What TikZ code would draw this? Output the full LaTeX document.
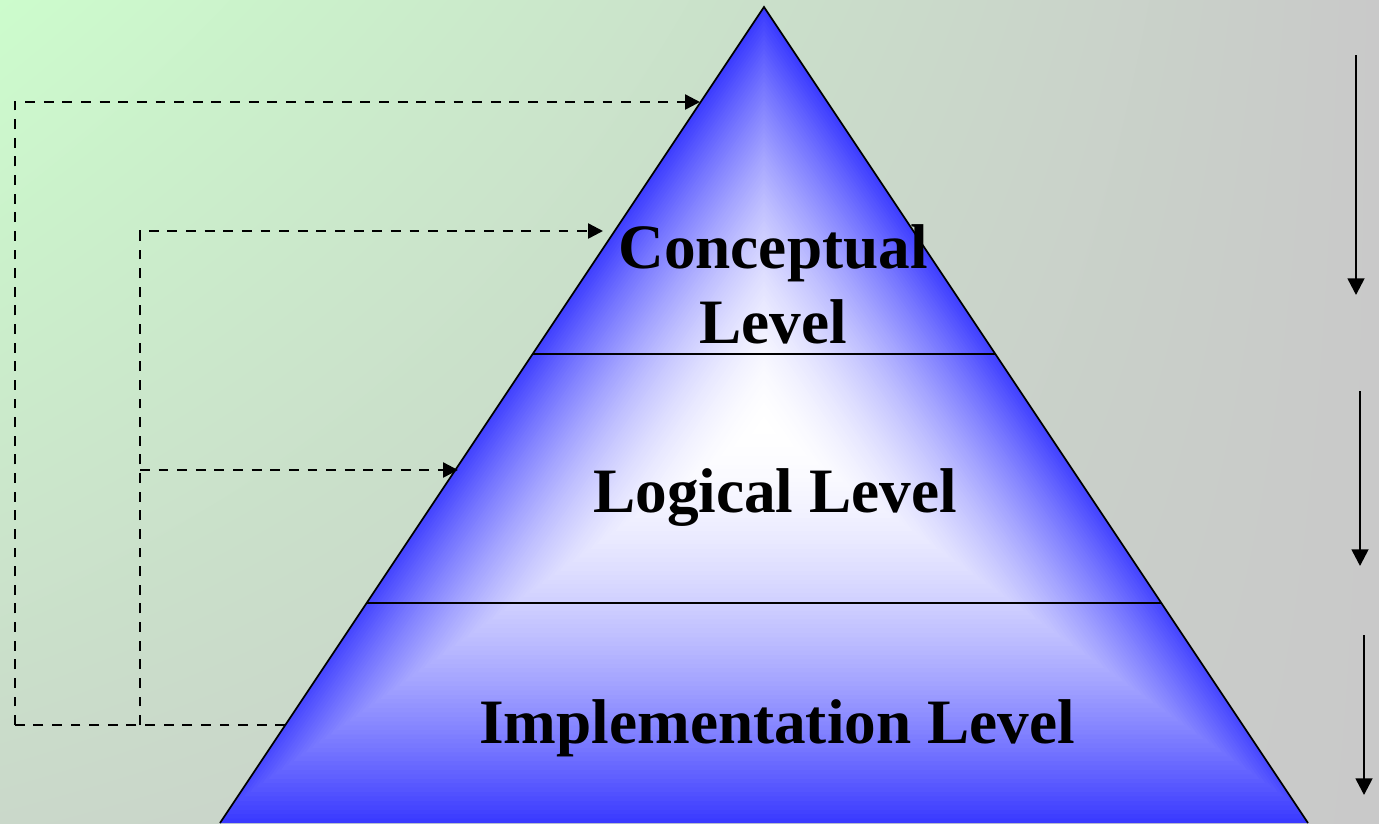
\documentclass[tikz,border=0pt]{standalone}
\usepackage{fontspec}
\setmainfont{Liberation Serif}
\usetikzlibrary{arrows.meta,calc,shadings}
\definecolor{pyrblue}{RGB}{58,58,255}
\definecolor{bgUL}{RGB}{204,252,204}
\definecolor{bgUR}{RGB}{201,201,201}
\definecolor{bgLL}{RGB}{202,216,202}
\definecolor{bgLR}{RGB}{201,201,201}
\tikzset{
  lvl/.style={font=\bfseries\fontsize{36}{42.5}\selectfont, align=center, inner sep=0pt, anchor=base},
  dashconn/.style={draw=black, line width=1.4pt, dash pattern=on 5.6pt off 5pt, -{Triangle[length=8.5pt,width=8.5pt]}},
  dashplain/.style={draw=black, line width=1.4pt, dash pattern=on 5.6pt off 5pt},
  downarrow/.style={draw=black, line width=1.5pt, -{Triangle[length=9.5pt,width=9.5pt]}},
  outline/.style={draw=black, line width=1pt}
}
\begin{document}
\begin{tikzpicture}[x=0.02cm,y=-0.02cm]
\useasboundingbox (0,0) rectangle (1379,823);
\shade[upper left=bgUL, upper right=bgUR, lower left=bgLL, lower right=bgLR] (0,0) rectangle (1379,823);
% pyramid shading
\begin{scope}
\clip (764,7) -- (220,823) -- (1308,823) -- cycle;
\foreach \i in {0,...,89}{
  \pgfmathsetmacro{\s}{1-\i/90}
  \pgfmathsetmacro{\p}{100*(\s)^1.8}
  \fill[pyrblue!\p!white, shift={(764,425)}, scale=\s] (0,-418) -- (-557,398) -- (557,398) -- cycle;
}
\end{scope}
\coordinate (apex) at (764,7);
\coordinate (bl) at (220,823);
\coordinate (br) at (1308,823);
\draw[outline] (bl) -- (apex) -- (br);
\coordinate (l1a) at (532.7,354);
\coordinate (l1b) at (995.3,354);
\coordinate (l2a) at (366.7,603);
\coordinate (l2b) at (1161.3,603);
\draw[outline] (l1a) -- (l1b);
\draw[outline] (l2a) -- (l2b);
% texts
\node[lvl] (con) at (773,343) {Conceptual\\Level};
\node[lvl] (log) at (775,512) {Logical Level};
\node[lvl] (imp) at (777,743) {Implementation Level};
% dashed connectors
\coordinate (impEdge) at (285.3,725);
\coordinate (o1) at (15,725);
\coordinate (o2) at (15,102);
\coordinate (conTip) at (700,102);
\coordinate (i1) at (140,725);
\coordinate (i2) at (140,231);
\coordinate (conTip2) at (603,231);
\coordinate (i3) at (140,470);
\coordinate (logTip) at (458,470);
\draw[dashplain] (impEdge) -- (o1);
\draw[dashconn] (o1) -- (o2) -- (conTip);
\draw[dashconn] (i1) -- (i2) -- (conTip2);
\draw[dashconn] (i3) -- (logTip);
% right arrows
\coordinate (r1a) at (1356,55);
\coordinate (r1b) at (1356,295);
\coordinate (r2a) at (1360,391);
\coordinate (r2b) at (1360,566);
\coordinate (r3a) at (1364,635);
\coordinate (r3b) at (1364,795);
\draw[downarrow] (r1a) -- (r1b);
\draw[downarrow] (r2a) -- (r2b);
\draw[downarrow] (r3a) -- (r3b);
\end{tikzpicture}
\end{document}
